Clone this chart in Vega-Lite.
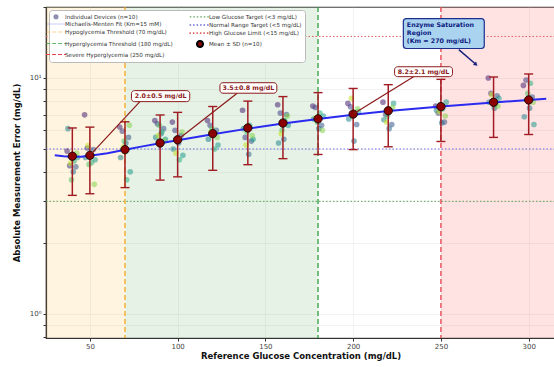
{
  "$schema": "https://vega.github.io/schema/vega-lite/v6.json",
  "width": 509,
  "height": 331,
  "autosize": "none",
  "padding": {"left": 46, "top": 7, "right": 0, "bottom": 29},
  "config": {
    "font": "DejaVu Sans",
    "view": {"stroke": "#333333", "strokeWidth": 1.2},
    "axis": {"labelFont": "DejaVu Sans", "labelFontSize": 7, "labelColor": "#444444", "titleFont": "DejaVu Sans", "titleFontSize": 8.5, "titleFontWeight": "bold", "titleColor": "#111111", "domainColor": "#333333", "domainWidth": 1.2, "tickColor": "#333333", "tickSize": 3, "gridColor": "#dddddd", "gridOpacity": 0.6, "gridWidth": 0.6}
  },
  "resolve": {"scale": {"color": "independent", "fill": "independent", "stroke": "independent", "shape": "independent", "size": "independent", "strokeDash": "independent", "strokeWidth": "independent"}},
  "layer": [
    {
      "data": {"values": [{"x": 25, "x2": 70, "c": "hypo"}, {"x": 70, "x2": 180, "c": "norm"}, {"x": 250, "x2": 315, "c": "severe"}]},
      "mark": {"type": "rect", "opacity": 0.12},
      "encoding": {
        "x": {"field": "x", "type": "quantitative", "scale": {"domain": [25, 315], "nice": false, "zero": false}, "title": "Reference Glucose Concentration (mg/dL)", "axis": {"values": [50, 100, 150, 200, 250, 300], "grid": true, "labelPadding": 1, "titlePadding": 2}},
        "x2": {"field": "x2"},
        "color": {"field": "c", "type": "nominal", "scale": {"domain": ["hypo", "norm", "severe"], "range": ["#ffa500", "#2a982a", "#ff1a1a"]}, "legend": null}
      }
    },
    {
      "data": {"values": [{"y": 3, "k": "low"}, {"y": 5, "k": "normal"}, {"y": 15, "k": "high"}]},
      "mark": {"type": "rule", "strokeDash": [1.5, 2], "strokeWidth": 1},
      "encoding": {
        "y": {"field": "y", "type": "quantitative", "scale": {"type": "log", "domain": [0.79, 20], "nice": false}, "title": "Absolute Measurement Error (mg/dL)", "axis": {"values": [0.8, 0.9, 1, 2, 3, 4, 5, 6, 7, 8, 9, 10, 20], "labelExpr": "datum.value == 10 ? '10¹' : datum.value == 1 ? '10⁰' : ''", "grid": true, "labelPadding": 2, "titlePadding": 8}},
        "color": {"field": "k", "type": "nominal", "scale": {"domain": ["low", "normal", "high"], "range": ["#5aa55a", "#6a6ae0", "#e06060"]}, "legend": null}
      }
    },
    {
      "data": {"values": [{"x": 70, "k": "hypo"}, {"x": 180, "k": "hyper"}, {"x": 250, "k": "severe"}]},
      "mark": {"type": "rule", "strokeDash": [5, 3], "strokeWidth": 1.3},
      "encoding": {
        "x": {"field": "x", "type": "quantitative", "scale": {"domain": [25, 315], "nice": false, "zero": false}},
        "color": {"field": "k", "type": "nominal", "scale": {"domain": ["hypo", "hyper", "severe"], "range": ["#f5a623", "#2e9e3e", "#e8434b"]}, "legend": null}
      }
    },
    {
      "data": {"values": [
        {"x":37,"y":4.9,"d":1},{"x":38.5,"y":4.25,"d":2},{"x":42,"y":4.2,"d":3},{"x":40.5,"y":4.0,"d":4},{"x":37.5,"y":6.1,"d":5},{"x":43,"y":4.6,"d":6},{"x":41,"y":4.45,"d":7},{"x":39.5,"y":3.7,"d":8},{"x":42.5,"y":4.8,"d":9},{"x":39,"y":4.35,"d":10},
        {"x":47,"y":6.98,"d":1},{"x":48.5,"y":5.05,"d":2},{"x":52,"y":4.97,"d":3},{"x":50.5,"y":4.74,"d":4},{"x":47.5,"y":4.6,"d":5},{"x":53,"y":4.5,"d":6},{"x":51,"y":4.38,"d":7},{"x":49.5,"y":4.3,"d":8},{"x":52.5,"y":3.54,"d":9},{"x":49,"y":5.17,"d":10},
        {"x":67,"y":6.2,"d":1},{"x":68.5,"y":5.95,"d":2},{"x":72,"y":5.6,"d":3},{"x":70.5,"y":5.3,"d":4},{"x":67.5,"y":4.6,"d":5},{"x":73,"y":4.0,"d":6},{"x":71,"y":3.7,"d":7},{"x":69.5,"y":5.4,"d":8},{"x":72.5,"y":6.3,"d":9},{"x":69,"y":5.1,"d":10},
        {"x":87,"y":6.6,"d":1},{"x":88.5,"y":6.4,"d":2},{"x":92,"y":6.1,"d":3},{"x":90.5,"y":5.8,"d":4},{"x":87.5,"y":5.6,"d":5},{"x":93,"y":5.5,"d":6},{"x":91,"y":5.9,"d":7},{"x":89.5,"y":6.3,"d":8},{"x":92.5,"y":5.4,"d":9},{"x":89,"y":5.7,"d":10},
        {"x":97,"y":6.5,"d":1},{"x":98.5,"y":6.0,"d":2},{"x":102,"y":5.7,"d":3},{"x":100.5,"y":5.3,"d":4},{"x":97.5,"y":5.0,"d":5},{"x":103,"y":4.7,"d":6},{"x":101,"y":4.5,"d":7},{"x":99.5,"y":5.5,"d":8},{"x":102.5,"y":5.9,"d":9},{"x":99,"y":4.8,"d":10},
        {"x":117,"y":6.6,"d":1},{"x":118.5,"y":6.3,"d":2},{"x":122,"y":6.0,"d":3},{"x":120.5,"y":5.8,"d":4},{"x":117.5,"y":5.5,"d":5},{"x":123,"y":5.2,"d":6},{"x":121,"y":5.0,"d":7},{"x":119.5,"y":6.1,"d":8},{"x":122.5,"y":5.6,"d":9},{"x":119,"y":5.9,"d":10},
        {"x":137,"y":7.3,"d":1},{"x":138.5,"y":5.6,"d":2},{"x":142,"y":5.4,"d":3},{"x":140.5,"y":4.75,"d":4},{"x":137.5,"y":6.1,"d":5},{"x":143,"y":5.5,"d":6},{"x":141,"y":6.3,"d":7},{"x":139.5,"y":5.9,"d":8},{"x":142.5,"y":5.7,"d":9},{"x":139,"y":5.2,"d":10},
        {"x":157,"y":7.7,"d":1},{"x":158.5,"y":7.1,"d":2},{"x":162,"y":7.0,"d":3},{"x":160.5,"y":5.5,"d":4},{"x":157.5,"y":5.3,"d":5},{"x":163,"y":6.3,"d":6},{"x":161,"y":6.6,"d":7},{"x":159.5,"y":6.0,"d":8},{"x":162.5,"y":6.9,"d":9},{"x":159,"y":5.8,"d":10},
        {"x":177,"y":7.6,"d":1},{"x":178.5,"y":7.5,"d":2},{"x":182,"y":6.3,"d":3},{"x":180.5,"y":6.1,"d":4},{"x":177.5,"y":6.7,"d":5},{"x":183,"y":6.9,"d":6},{"x":181,"y":7.1,"d":7},{"x":179.5,"y":6.5,"d":8},{"x":182.5,"y":6.0,"d":9},{"x":179,"y":6.8,"d":10},
        {"x":197,"y":7.8,"d":1},{"x":198.5,"y":7.55,"d":2},{"x":202,"y":6.35,"d":3},{"x":200.5,"y":5.4,"d":4},{"x":197.5,"y":6.7,"d":5},{"x":203,"y":7.2,"d":6},{"x":201,"y":7.0,"d":7},{"x":199.5,"y":6.9,"d":8},{"x":202.5,"y":7.4,"d":9},{"x":199,"y":8.2,"d":10},
        {"x":217,"y":7.9,"d":1},{"x":218.5,"y":7.0,"d":2},{"x":222,"y":6.35,"d":3},{"x":220.5,"y":6.1,"d":4},{"x":217.5,"y":6.65,"d":5},{"x":223,"y":7.8,"d":6},{"x":221,"y":7.3,"d":7},{"x":219.5,"y":6.9,"d":8},{"x":222.5,"y":7.5,"d":9},{"x":219,"y":6.5,"d":10},
        {"x":247,"y":7.6,"d":1},{"x":248.5,"y":7.1,"d":2},{"x":252,"y":6.5,"d":3},{"x":250.5,"y":6.45,"d":4},{"x":247.5,"y":7.3,"d":5},{"x":253,"y":7.9,"d":6},{"x":251,"y":7.4,"d":7},{"x":249.5,"y":7.7,"d":8},{"x":252.5,"y":6.9,"d":9},{"x":249,"y":7.2,"d":10},
        {"x":277,"y":10.0,"d":1},{"x":278.5,"y":8.6,"d":2},{"x":282,"y":8.4,"d":3},{"x":280.5,"y":7.45,"d":4},{"x":277.5,"y":7.9,"d":5},{"x":283,"y":8.2,"d":6},{"x":281,"y":7.7,"d":7},{"x":279.5,"y":8.0,"d":8},{"x":282.5,"y":7.6,"d":9},{"x":279,"y":8.5,"d":10},
        {"x":297,"y":9.3,"d":1},{"x":298.5,"y":9.8,"d":2},{"x":302,"y":8.3,"d":3},{"x":300.5,"y":7.45,"d":4},{"x":297.5,"y":6.85,"d":5},{"x":303,"y":6.35,"d":6},{"x":301,"y":9.5,"d":7},{"x":299.5,"y":8.6,"d":8},{"x":302.5,"y":7.9,"d":9},{"x":299,"y":8.1,"d":10}
      ]},
      "mark": {"type": "point", "filled": true, "size": 32, "opacity": 0.55},
      "encoding": {
        "x": {"field": "x", "type": "quantitative", "scale": {"domain": [25, 315], "nice": false, "zero": false}},
        "y": {"field": "y", "type": "quantitative", "scale": {"type": "log", "domain": [0.79, 20], "nice": false}},
        "color": {"field": "d", "type": "ordinal", "scale": {"scheme": "viridis"}, "legend": null}
      }
    },
    {
      "data": {"values": [
        {"x":30,"y":4.70},{"x":35,"y":4.66},{"x":40,"y":4.64},{"x":45,"y":4.64},{"x":50,"y":4.68},{"x":60,"y":4.80},{"x":70,"y":4.96},{"x":80,"y":5.13},{"x":90,"y":5.29},{"x":100,"y":5.45},{"x":120,"y":5.78},{"x":140,"y":6.10},{"x":160,"y":6.41},{"x":180,"y":6.70},{"x":200,"y":6.98},{"x":220,"y":7.24},{"x":250,"y":7.58},{"x":280,"y":7.88},{"x":300,"y":8.06},{"x":310,"y":8.16}
      ]},
      "mark": {"type": "line", "color": "#2b2bf0", "strokeWidth": 2},
      "encoding": {
        "x": {"field": "x", "type": "quantitative", "scale": {"domain": [25, 315], "nice": false, "zero": false}},
        "y": {"field": "y", "type": "quantitative", "scale": {"type": "log", "domain": [0.79, 20], "nice": false}}
      }
    },
    {
      "data": {"values": [
        {"x":40,"y":4.66,"lo":3.18,"hi":6.14},{"x":50,"y":4.70,"lo":3.23,"hi":6.19},{"x":70,"y":4.97,"lo":3.43,"hi":6.52},{"x":90,"y":5.30,"lo":3.69,"hi":6.97},{"x":100,"y":5.47,"lo":3.81,"hi":7.15},{"x":120,"y":5.81,"lo":4.06,"hi":7.57},{"x":140,"y":6.14,"lo":4.29,"hi":7.98},{"x":160,"y":6.44,"lo":4.55,"hi":8.34},{"x":180,"y":6.71,"lo":4.74,"hi":8.67},{"x":200,"y":7.03,"lo":4.97,"hi":9.03},{"x":220,"y":7.26,"lo":5.11,"hi":9.37},{"x":250,"y":7.56,"lo":5.38,"hi":9.87},{"x":280,"y":7.89,"lo":5.60,"hi":10.1},{"x":300,"y":8.07,"lo":5.76,"hi":10.4}
      ]},
      "layer": [
        {
          "mark": {"type": "rule", "color": "#a01c22", "strokeWidth": 1.5},
          "encoding": {
            "x": {"field": "x", "type": "quantitative", "scale": {"domain": [25, 315], "nice": false, "zero": false}},
            "y": {"field": "lo", "type": "quantitative", "scale": {"type": "log", "domain": [0.79, 20], "nice": false}},
            "y2": {"field": "hi"}
          }
        },
        {
          "mark": {"type": "tick", "orient": "horizontal", "color": "#a01c22", "size": 9, "thickness": 1.4, "opacity": 1},
          "encoding": {
            "x": {"field": "x", "type": "quantitative", "scale": {"domain": [25, 315], "nice": false, "zero": false}},
            "y": {"field": "lo", "type": "quantitative", "scale": {"type": "log", "domain": [0.79, 20], "nice": false}}
          }
        },
        {
          "mark": {"type": "tick", "orient": "horizontal", "color": "#a01c22", "size": 9, "thickness": 1.4, "opacity": 1},
          "encoding": {
            "x": {"field": "x", "type": "quantitative", "scale": {"domain": [25, 315], "nice": false, "zero": false}},
            "y": {"field": "hi", "type": "quantitative", "scale": {"type": "log", "domain": [0.79, 20], "nice": false}}
          }
        },
        {
          "mark": {"type": "point", "filled": true, "fill": "#8b0000", "stroke": "#000000", "strokeWidth": 0.8, "size": 70, "opacity": 1},
          "encoding": {
            "x": {"field": "x", "type": "quantitative", "scale": {"domain": [25, 315], "nice": false, "zero": false}},
            "y": {"field": "y", "type": "quantitative", "scale": {"type": "log", "domain": [0.79, 20], "nice": false}}
          }
        }
      ]
    },
    {
      "data": {"values": [
        {"x":50,"y":4.70,"x2":78.5,"y2":7.94,"bx":73.7,"bx2":106.9,"by":7.94,"by2":8.84,"t":"2.0±0.5 mg/dL","tx":90.3,"ty":8.38},
        {"x":100,"y":5.47,"x2":133.9,"y2":8.62,"bx":124.1,"bx2":156.5,"by":8.62,"by2":9.55,"t":"3.5±0.8 mg/dL","tx":140.3,"ty":9.07},
        {"x":200,"y":7.03,"x2":234.4,"y2":10.13,"bx":223.6,"bx2":256.6,"by":10.13,"by2":11.16,"t":"8.2±2.1 mg/dL","tx":240.1,"ty":10.63}
      ]},
      "layer": [
        {
          "mark": {"type": "rule", "color": "#8b1a1a", "strokeWidth": 1.2},
          "encoding": {
            "x": {"field": "x", "type": "quantitative", "scale": {"domain": [25, 315], "nice": false, "zero": false}},
            "y": {"field": "y", "type": "quantitative", "scale": {"type": "log", "domain": [0.79, 20], "nice": false}},
            "x2": {"field": "x2"},
            "y2": {"field": "y2"}
          }
        },
        {
          "mark": {"type": "rect", "fill": "#ffffff", "stroke": "#8b1a1a", "strokeWidth": 1, "cornerRadius": 3, "opacity": 1},
          "encoding": {
            "x": {"field": "bx", "type": "quantitative", "scale": {"domain": [25, 315], "nice": false, "zero": false}},
            "x2": {"field": "bx2"},
            "y": {"field": "by", "type": "quantitative", "scale": {"type": "log", "domain": [0.79, 20], "nice": false}},
            "y2": {"field": "by2"}
          }
        },
        {
          "mark": {"type": "text", "color": "#8b1a1a", "fontWeight": "bold", "fontSize": 6.3, "font": "DejaVu Sans", "align": "center", "baseline": "middle"},
          "encoding": {
            "x": {"field": "tx", "type": "quantitative", "scale": {"domain": [25, 315], "nice": false, "zero": false}},
            "y": {"field": "ty", "type": "quantitative", "scale": {"type": "log", "domain": [0.79, 20], "nice": false}},
            "text": {"field": "t"}
          }
        }
      ]
    },
    {
      "data": {"values": [{"x":260.2,"y":13.2,"x2":269.7,"y2":11.46,"bx":228.6,"bx2":274.7,"by":13.34,"by2":17.87,"tx":230.6,"ty":16.78,"t":"Enzyme Saturation\nRegion\n(Km = 270 mg/dL)"}]},
      "layer": [
        {
          "mark": {"type": "rule", "color": "#1a237e", "strokeWidth": 1.5},
          "encoding": {
            "x": {"field": "x", "type": "quantitative", "scale": {"domain": [25, 315], "nice": false, "zero": false}},
            "y": {"field": "y", "type": "quantitative", "scale": {"type": "log", "domain": [0.79, 20], "nice": false}},
            "x2": {"field": "x2"},
            "y2": {"field": "y2"}
          }
        },
        {
          "mark": {"type": "point", "shape": "triangle", "angle": 131, "filled": true, "color": "#1a237e", "size": 22, "opacity": 1},
          "encoding": {
            "x": {"field": "x2", "type": "quantitative", "scale": {"domain": [25, 315], "nice": false, "zero": false}},
            "y": {"field": "y2", "type": "quantitative", "scale": {"type": "log", "domain": [0.79, 20], "nice": false}}
          }
        },
        {
          "mark": {"type": "rect", "fill": "#a9d3ef", "stroke": "#1c2f8f", "strokeWidth": 1.2, "cornerRadius": 3, "opacity": 1},
          "encoding": {
            "x": {"field": "bx", "type": "quantitative", "scale": {"domain": [25, 315], "nice": false, "zero": false}},
            "x2": {"field": "bx2"},
            "y": {"field": "by", "type": "quantitative", "scale": {"type": "log", "domain": [0.79, 20], "nice": false}},
            "y2": {"field": "by2"}
          }
        },
        {
          "mark": {"type": "text", "color": "#0d1a80", "fontWeight": "bold", "fontSize": 6.3, "font": "DejaVu Sans", "align": "left", "baseline": "middle", "lineBreak": "\n", "lineHeight": 7.8},
          "encoding": {
            "x": {"field": "tx", "type": "quantitative", "scale": {"domain": [25, 315], "nice": false, "zero": false}},
            "y": {"field": "ty", "type": "quantitative", "scale": {"type": "log", "domain": [0.79, 20], "nice": false}},
            "text": {"field": "t"}
          }
        }
      ]
    },
    {
      "data": {"values": [
        {"label": "Individual Devices (n=10)"},
        {"label": "Michaelis-Menten Fit (Km=15 mM)"},
        {"label": "Hypoglycemia Threshold (70 mg/dL)"},
        {"label": "Hyperglycemia Threshold (180 mg/dL)"},
        {"label": "Severe Hyperglycemia (250 mg/dL)"},
        {"label": "Low Glucose Target (<3 mg/dL)"},
        {"label": "Normal Range Target (<5 mg/dL)"},
        {"label": "High Glucose Limit (<15 mg/dL)"},
        {"label": "Mean ± SD (n=10)"}
      ]},
      "mark": {"type": "point", "clip": true, "opacity": 1, "filled": true},
      "encoding": {
        "x": {"datum": 0, "type": "quantitative", "scale": {"domain": [25, 315], "nice": false, "zero": false}},
        "y": {"datum": 5, "type": "quantitative", "scale": {"type": "log", "domain": [0.79, 20], "nice": false}},
        "fill": {"field": "label", "type": "nominal", "title": null,
          "scale": {"domain": ["Individual Devices (n=10)", "Michaelis-Menten Fit (Km=15 mM)", "Hypoglycemia Threshold (70 mg/dL)", "Hyperglycemia Threshold (180 mg/dL)", "Severe Hyperglycemia (250 mg/dL)", "Low Glucose Target (<3 mg/dL)", "Normal Range Target (<5 mg/dL)", "High Glucose Limit (<15 mg/dL)", "Mean ± SD (n=10)"],
            "range": ["#8e8fb0", "transparent", "transparent", "transparent", "transparent", "transparent", "transparent", "transparent", "#8b0000"]},
          "legend": {"orient": "top-left", "offset": 3, "columns": 2, "columnPadding": 12, "rowPadding": 0, "padding": 3, "fillColor": "#ffffff", "strokeColor": "#bbbbbb", "cornerRadius": 3, "labelFont": "DejaVu Sans", "labelFontSize": 5.6, "labelColor": "#333333", "labelOffset": 5, "labelLimit": 200, "symbolOpacity": 1}},
        "stroke": {"field": "label", "type": "nominal", "title": null,
          "scale": {"domain": ["Individual Devices (n=10)", "Michaelis-Menten Fit (Km=15 mM)", "Hypoglycemia Threshold (70 mg/dL)", "Hyperglycemia Threshold (180 mg/dL)", "Severe Hyperglycemia (250 mg/dL)", "Low Glucose Target (<3 mg/dL)", "Normal Range Target (<5 mg/dL)", "High Glucose Limit (<15 mg/dL)", "Mean ± SD (n=10)"],
            "range": ["transparent", "#2b2bf0", "#f5a623", "#2e9e3e", "#e8434b", "#5aa55a", "#6a6ae0", "#e06060", "#000000"]}},
        "shape": {"field": "label", "type": "nominal", "title": null,
          "scale": {"domain": ["Individual Devices (n=10)", "Michaelis-Menten Fit (Km=15 mM)", "Hypoglycemia Threshold (70 mg/dL)", "Hyperglycemia Threshold (180 mg/dL)", "Severe Hyperglycemia (250 mg/dL)", "Low Glucose Target (<3 mg/dL)", "Normal Range Target (<5 mg/dL)", "High Glucose Limit (<15 mg/dL)", "Mean ± SD (n=10)"],
            "range": ["circle", "M-3.6,0H3.6", "M-3.6,0H3.6", "M-3.6,0H3.6", "M-3.6,0H3.6", "M-3.6,0H3.6", "M-3.6,0H3.6", "M-3.6,0H3.6", "circle"]}},
        "strokeDash": {"field": "label", "type": "nominal", "title": null,
          "scale": {"domain": ["Individual Devices (n=10)", "Michaelis-Menten Fit (Km=15 mM)", "Hypoglycemia Threshold (70 mg/dL)", "Hyperglycemia Threshold (180 mg/dL)", "Severe Hyperglycemia (250 mg/dL)", "Low Glucose Target (<3 mg/dL)", "Normal Range Target (<5 mg/dL)", "High Glucose Limit (<15 mg/dL)", "Mean ± SD (n=10)"],
            "range": [[1, 0], [1, 0], [4, 2], [4, 2], [4, 2], [1.5, 2], [1.5, 2], [1.5, 2], [1, 0]]}},
        "size": {"field": "label", "type": "ordinal", "title": null,
          "scale": {"domain": ["Individual Devices (n=10)", "Michaelis-Menten Fit (Km=15 mM)", "Hypoglycemia Threshold (70 mg/dL)", "Hyperglycemia Threshold (180 mg/dL)", "Severe Hyperglycemia (250 mg/dL)", "Low Glucose Target (<3 mg/dL)", "Normal Range Target (<5 mg/dL)", "High Glucose Limit (<15 mg/dL)", "Mean ± SD (n=10)"],
            "range": [26, 36, 36, 36, 36, 36, 36, 36, 52]}},
        "strokeWidth": {"field": "label", "type": "ordinal", "title": null,
          "scale": {"domain": ["Individual Devices (n=10)", "Michaelis-Menten Fit (Km=15 mM)", "Hypoglycemia Threshold (70 mg/dL)", "Hyperglycemia Threshold (180 mg/dL)", "Severe Hyperglycemia (250 mg/dL)", "Low Glucose Target (<3 mg/dL)", "Normal Range Target (<5 mg/dL)", "High Glucose Limit (<15 mg/dL)", "Mean ± SD (n=10)"],
            "range": [0, 2, 1.5, 1.5, 1.5, 1.2, 1.2, 1.2, 0.8]}}
      }
    }
  ]
}
